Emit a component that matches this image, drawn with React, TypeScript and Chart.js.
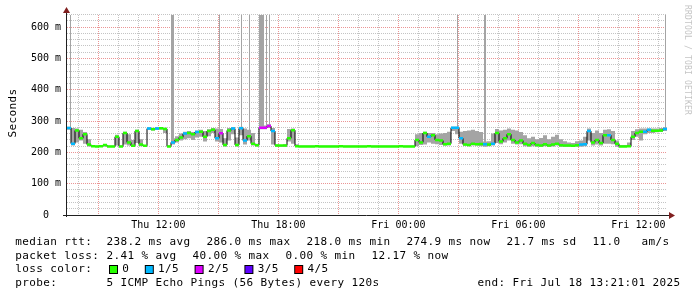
import React, { useEffect, useRef } from "react";
import { Chart, registerables } from "chart.js";

Chart.register(...registerables);

// time axis in hours since Thu 00:00
const X_MIN = 7.43;
const X_MAX = 37.43;
const Y_MAX = 639;
const START_HOUR = 7.43;
const STEP_HOUR = 0.2;

const medianMs = [
  278, 228, 270, 245, 258, 225, 220, 219, 220, 224,
  219, 219, 250, 219, 262, 232, 221, 268, 225, 221,
  276, 274, 276, 277, 275, 219, 232, 240, 248, 260,
  262, 258, 265, 266, 250, 268, 272, 245, 261, 224,
  270, 276, 224, 277, 238, 252, 228, 223, 279, 279,
  284, 268, 222, 222, 222, 245, 271, 220, 219, 219,
  219, 219, 220, 219, 219, 219, 219, 219, 220, 219,
  219, 219, 219, 219, 219, 220, 219, 219, 219, 219,
  219, 219, 219, 220, 219, 219, 219, 240, 232, 262,
  250, 255, 240, 238, 226, 228, 279, 279, 245, 225,
  224, 228, 226, 227, 226, 225, 228, 262, 235, 245,
  258, 240, 232, 238, 228, 224, 230, 224, 222, 226,
  222, 225, 228, 223, 222, 222, 221, 223, 225, 226,
  268, 232, 240, 230, 255, 255, 240, 228, 219, 219,
  220, 250, 262, 266, 266, 272, 269, 269, 270, 275,
];

// number of lost pings (out of 5) per sample
const lossLevel = [
  1, 1, 0, 0, 0, 0, 0, 0, 0, 0,
  0, 0, 0, 0, 0, 0, 0, 0, 0, 0,
  1, 0, 1, 0, 0, 0, 1, 0, 0, 1,
  0, 0, 1, 0, 0, 0, 0, 1, 2, 0,
  0, 1, 0, 1, 1, 0, 0, 0, 2, 2,
  2, 1, 0, 0, 0, 0, 0, 0, 0, 0,
  0, 0, 0, 0, 0, 0, 0, 0, 0, 0,
  0, 0, 0, 0, 0, 0, 0, 0, 0, 0,
  0, 0, 0, 0, 0, 0, 0, 0, 0, 0,
  1, 0, 0, 0, 0, 0, 1, 1, 1, 0,
  0, 0, 0, 0, 1, 0, 1, 0, 0, 0,
  0, 0, 0, 0, 0, 0, 0, 0, 0, 0,
  0, 0, 0, 0, 0, 0, 0, 0, 1, 1,
  1, 0, 0, 0, 0, 1, 0, 0, 0, 0,
  0, 0, 0, 0, 1, 1, 0, 0, 0, 1,
];

const smokeLowMs = [
  272, 222, 232, 238, 228, 219, 218, 218, 218, 219,
  218, 218, 222, 218, 225, 222, 219, 230, 220, 219,
  272, 270, 272, 273, 262, 218, 225, 232, 238, 242,
  245, 240, 248, 250, 235, 252, 262, 235, 232, 219,
  238, 258, 219, 255, 225, 238, 222, 219, 274, 274,
  278, 225, 218, 218, 218, 235, 228, 218, 217, 217,
  217, 217, 217, 217, 217, 217, 217, 217, 217, 217,
  217, 217, 217, 217, 217, 217, 217, 217, 217, 217,
  217, 217, 217, 217, 217, 217, 217, 220, 224, 225,
  232, 228, 226, 224, 222, 222, 268, 258, 228, 222,
  220, 222, 222, 220, 218, 220, 222, 230, 226, 232,
  238, 228, 225, 226, 220, 218, 220, 218, 218, 220,
  218, 219, 222, 218, 218, 218, 218, 218, 218, 220,
  238, 222, 225, 222, 228, 228, 226, 218, 217, 217,
  218, 240, 250, 238, 258, 262, 262, 264, 265, 268,
];

const smokeHighMs = [
  282, 278, 276, 272, 265, 242, 222, 221, 222, 227,
  221, 221, 256, 222, 266, 258, 240, 272, 242, 224,
  280, 279, 280, 280, 279, 222, 245, 252, 260, 266,
  268, 265, 270, 272, 268, 274, 278, 276, 275, 245,
  278, 280, 248, 282, 276, 272, 262, 228, 286, 286,
  290, 278, 225, 223, 226, 275, 276, 226, 221, 221,
  221, 221, 221, 221, 221, 221, 221, 221, 221, 221,
  221, 221, 221, 221, 221, 221, 221, 221, 221, 221,
  221, 221, 221, 221, 221, 221, 221, 258, 262, 266,
  262, 262, 258, 260, 262, 266, 282, 282, 266, 268,
  270, 272, 268, 265, 235, 236, 260, 275, 270, 272,
  276, 272, 270, 265, 255, 245, 250, 242, 246, 255,
  242, 250, 256, 242, 236, 232, 230, 236, 238, 250,
  276, 262, 270, 262, 272, 274, 268, 238, 224, 224,
  232, 268, 274, 276, 276, 276, 276, 276, 278, 280,
];

// single pings far above the plot (drawn up to the top edge)
const spikeHours = [
  7.605, 12.655, 12.705, 12.755, 15.055, 16.155, 16.555, 17.055, 17.105,
  17.155, 17.205, 17.255, 17.405, 17.555, 26.955, 28.305, 28.355, 37.355,
];
const spikeBaseMs = [
  275, 240, 240, 240, 262, 270, 255, 278, 278,
  278, 278, 278, 280, 280, 276, 226, 226, 276,
];

const xLabelHours = [12, 18, 24, 30, 36];
const xLabelTexts = ["Thu 12:00", "Thu 18:00", "Fri 00:00", "Fri 06:00", "Fri 12:00"];
const yLabelValues = [0, 100, 200, 300, 400, 500, 600];
const yLabelTexts = ["0  ", "100 m", "200 m", "300 m", "400 m", "500 m", "600 m"];

const lossColors = ["#26ff00", "#00b8ff", "#dd00ff", "#5e00ff", "#ff0000"];
const lossLabels = ["0", "1/5", "2/5", "3/5", "4/5"];

const rttStats = ["238.2 ms avg", "286.0 ms max", "218.0 ms min", "274.9 ms now", "21.7 ms sd", "11.0   am/s"];
const lossStats = ["2.41 % avg", "40.00 % max", "0.00 % min", "12.17 % now"];
const probeText = "5 ICMP Echo Pings (56 Bytes) every 120s";
const endText = "end: Fri Jul 18 13:21:01 2025";
const yAxisTitle = "Seconds";
const watermark = "RRDTOOL / TOBI OETIKER";

const MONO = "'DejaVu Sans Mono', monospace";

function tAt(i: number) {
  return START_HOUR + i * STEP_HOUR;
}

// each sample holds its value over [t_i, t_i+1)
function stepSeries(vals: number[]) {
  const pts: { x: number; y: number }[] = vals.map((v, i) => ({ x: tAt(i), y: v }));
  pts.push({ x: tAt(vals.length), y: vals[vals.length - 1] });
  return pts;
}

function lossSegments(level: number) {
  const pts: { x: number; y: number | null }[] = [];
  medianMs.forEach((v, i) => {
    if (lossLevel[i] === level) {
      pts.push({ x: tAt(i), y: v }, { x: tAt(i + 1), y: v }, { x: tAt(i + 1), y: null });
    }
  });
  return pts;
}

function spikeSeries() {
  const pts: { x: number; y: number | null }[] = [];
  spikeHours.forEach((h, i) => {
    pts.push({ x: h, y: spikeBaseMs[i] }, { x: h, y: Y_MAX + 5 }, { x: h, y: null });
  });
  return pts;
}

function drawMono(ctx: CanvasRenderingContext2D, text: string, x: number, y: number, adv: number) {
  for (let k = 0; k < text.length; k++) {
    const ch = text[k];
    if (ch !== " ") ctx.fillText(ch, x + k * adv, y);
  }
}

const decorPlugin = {
  id: "rrdDecor",
  afterDraw(chart: any) {
    const ctx: CanvasRenderingContext2D = chart.ctx;
    const area = chart.chartArea;
    ctx.save();

    // axes
    ctx.strokeStyle = "#202020";
    ctx.lineWidth = 1;
    ctx.beginPath();
    ctx.moveTo(area.left - 0.5, area.bottom + 2);
    ctx.lineTo(area.left - 0.5, 11);
    ctx.moveTo(area.left - 4, area.bottom + 0.5);
    ctx.lineTo(area.right + 3, area.bottom + 0.5);
    ctx.stroke();

    // arrows
    ctx.fillStyle = "#801f1f";
    ctx.beginPath();
    ctx.moveTo(area.left - 4, 13);
    ctx.lineTo(area.left + 3, 13);
    ctx.lineTo(area.left - 0.5, 7);
    ctx.closePath();
    ctx.fill();
    ctx.beginPath();
    ctx.moveTo(area.right + 2, area.bottom - 3);
    ctx.lineTo(area.right + 2, area.bottom + 4);
    ctx.lineTo(area.right + 8, area.bottom + 0.5);
    ctx.closePath();
    ctx.fill();

    // y axis title
    ctx.fillStyle = "#000";
    ctx.font = `11px ${MONO}`;
    ctx.textAlign = "left";
    ctx.textBaseline = "alphabetic";
    ctx.save();
    ctx.translate(15.5, 137.5);
    ctx.rotate(-Math.PI / 2);
    drawMono(ctx, yAxisTitle, 0, 0, 7);
    ctx.restore();

    // watermark
    ctx.save();
    ctx.fillStyle = "#c4c4c4";
    ctx.font = `8px ${MONO}`;
    ctx.translate(684.5, 5);
    ctx.rotate(Math.PI / 2);
    drawMono(ctx, watermark, 0, 0, 5);
    ctx.restore();

    // legend
    ctx.fillStyle = "#000";
    ctx.font = `11px ${MONO}`;
    const x0 = 15.3;
    const col = 106.6;
    const gap = 16;
    const lines = [245, 258.7, 272.3, 286];

    drawMono(ctx, "median rtt:", x0, lines[0], 7);
    let x = col;
    rttStats.forEach((s) => {
      drawMono(ctx, s, x, lines[0], 7);
      x += s.length * 7 + gap;
    });

    drawMono(ctx, "packet loss:", x0, lines[1], 7);
    x = col;
    lossStats.forEach((s) => {
      drawMono(ctx, s, x, lines[1], 7);
      x += s.length * 7 + gap;
    });

    drawMono(ctx, "loss color:", x0, lines[2], 7);
    let bx = 109;
    lossLabels.forEach((lab, i) => {
      ctx.fillStyle = "#000";
      ctx.fillRect(bx, 265, 9, 9);
      ctx.fillStyle = lossColors[i];
      ctx.fillRect(bx + 1, 266, 7, 7);
      ctx.fillStyle = "#000";
      const lx = bx + 13.3;
      drawMono(ctx, lab, lx, lines[2], 7);
      bx = lx + lab.length * 7 + 15.5;
    });

    drawMono(ctx, "probe:", x0, lines[3], 7);
    drawMono(ctx, probeText, col, lines[3], 7);
    drawMono(ctx, endText, 477.6, lines[3], 7);

    ctx.restore();
  },
};

export default function App() {
  const ref = useRef<HTMLCanvasElement>(null);

  useEffect(() => {
    const canvas = ref.current;
    if (!canvas) return;

    const hourTicks: number[] = [];
    for (let h = Math.ceil(X_MIN); h <= Math.floor(X_MAX); h++) hourTicks.push(h);
    const yTicks: number[] = [];
    for (let v = 0; v <= 640; v += 20) yTicks.push(v);

    const smoke = "#a4a4a4";
    const minorGrid = "#c4c4c4";
    const majorGrid = "rgba(222,79,79,0.6)";

    const datasets: any[] = [
      {
        label: "smokeLow",
        data: stepSeries(smokeLowMs),
        stepped: "before",
        borderWidth: 0,
        pointRadius: 0,
        fill: false,
        order: 10,
      },
      {
        label: "smokeHigh",
        data: stepSeries(smokeHighMs),
        stepped: "before",
        borderWidth: 0,
        pointRadius: 0,
        backgroundColor: smoke,
        fill: "-1",
        order: 9,
      },
      {
        label: "spikes",
        data: spikeSeries(),
        borderColor: smoke,
        borderWidth: 1,
        pointRadius: 0,
        spanGaps: false,
        fill: false,
        order: 8,
      },
      {
        label: "median",
        data: stepSeries(medianMs),
        stepped: "before",
        borderColor: "#000",
        borderWidth: 1,
        pointRadius: 0,
        fill: false,
        order: 7,
      },
    ];
    lossColors.forEach((c, level) => {
      datasets.push({
        label: "loss " + lossLabels[level],
        data: lossSegments(level),
        borderColor: c,
        borderWidth: 2.5,
        borderCapStyle: "butt",
        pointRadius: 0,
        spanGaps: false,
        fill: false,
        order: 1,
      });
    });

    const chart = new Chart(canvas, {
      type: "line",
      data: { datasets },
      plugins: [decorPlugin],
      options: {
        animation: false,
        responsive: false,
        devicePixelRatio: 1,
        events: [],
        layout: { padding: { left: 0, right: 30, top: 15, bottom: 0 } },
        plugins: {
          legend: { display: false },
          tooltip: { enabled: false },
          title: { display: false },
        },
        scales: {
          x: {
            type: "linear",
            min: X_MIN,
            max: X_MAX,
            afterBuildTicks: (s: any) => {
              s.ticks = hourTicks.map((v) => ({ value: v }));
            },
            afterFit: (s: any) => {
              s.height = 82;
            },
            ticks: {
              autoSkip: false,
              maxRotation: 0,
              minRotation: 0,
              padding: 4,
              color: "#000",
              font: { family: MONO, size: 10 },
              callback: (v: any) => {
                const k = xLabelHours.indexOf(Number(v));
                return k >= 0 ? xLabelTexts[k] : "";
              },
            },
            grid: {
              drawTicks: false,
              lineWidth: 1,
              color: (c: any) => (c.tick && c.tick.value % 3 === 0 ? majorGrid : minorGrid),
            },
            border: { display: false, dash: [1, 1] },
          },
          y: {
            type: "linear",
            min: 0,
            max: Y_MAX,
            afterBuildTicks: (s: any) => {
              s.ticks = yTicks.map((v) => ({ value: v }));
            },
            afterFit: (s: any) => {
              s.width = 67;
            },
            ticks: {
              autoSkip: false,
              padding: 6,
              color: "#000",
              font: { family: MONO, size: 10 },
              callback: (v: any) => {
                const k = yLabelValues.indexOf(Number(v));
                return k >= 0 ? yLabelTexts[k] : "";
              },
            },
            grid: {
              drawTicks: false,
              lineWidth: 1,
              color: (c: any) => (c.tick && c.tick.value % 100 === 0 ? majorGrid : minorGrid),
            },
            border: { display: false, dash: [1, 1] },
          },
        },
      } as any,
    });

    return () => chart.destroy();
  }, []);

  return (
    <div style={{ position: "absolute", left: 0, top: 0, width: 697, height: 297, background: "#fff" }}>
      <canvas ref={ref} width={697} height={297} style={{ display: "block", width: 697, height: 297 }} />
    </div>
  );
}
